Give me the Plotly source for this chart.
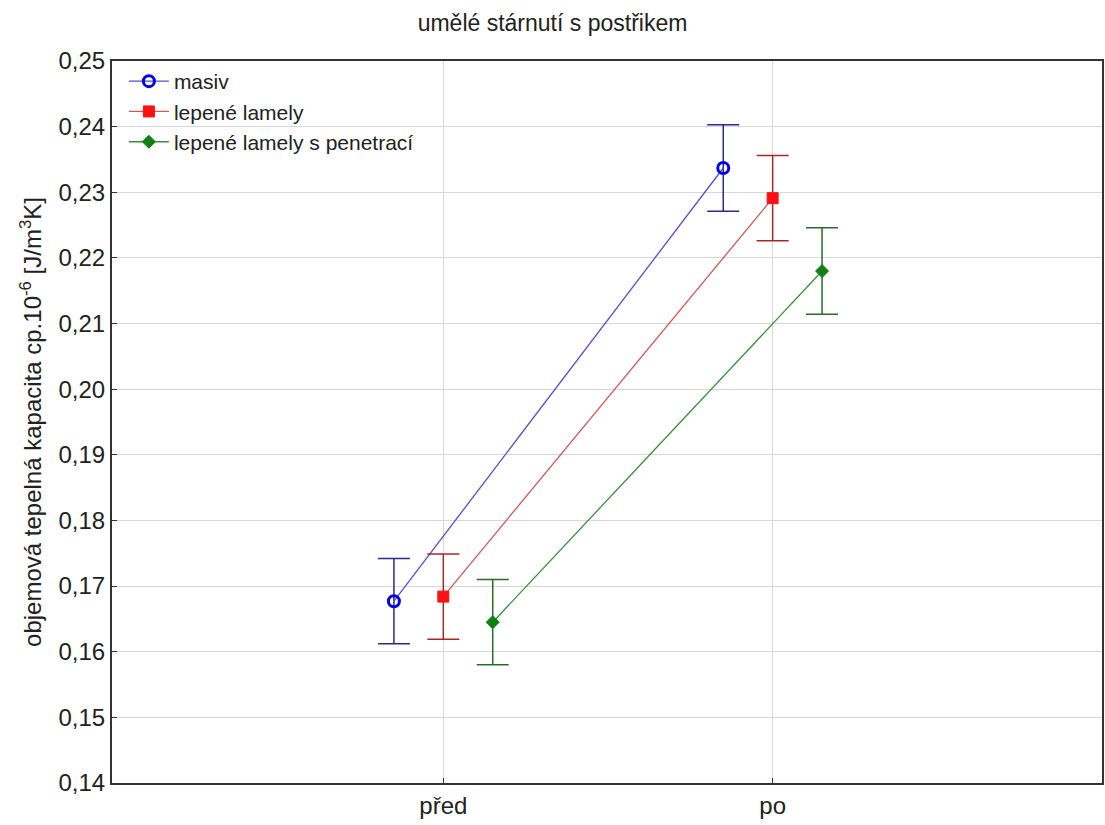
import plotly.graph_objects as go

categories = ["před", "po"]
series_names = ["masiv", "lepené lamely", "lepené lamely s penetrací"]
means_masiv = [0.1677, 0.2337]
means_lepene = [0.1684, 0.2291]
means_penetrace = [0.1645, 0.2180]
err_masiv = [0.0065, 0.0066]
err_lepene = [0.0065, 0.0065]
err_penetrace = [0.0065, 0.0066]
y_ticks = [0.14, 0.15, 0.16, 0.17, 0.18, 0.19, 0.20, 0.21, 0.22, 0.23, 0.24, 0.25]

offsets = [-0.15, 0.0, 0.15]
means = [means_masiv, means_lepene, means_penetrace]
errs = [err_masiv, err_lepene, err_penetrace]
marker_cfg = [
    dict(symbol="circle-open", size=11, color="#0000ee", line=dict(width=3, color="#0000ee")),
    dict(symbol="square", size=11, color="#ff1010", line=dict(width=1, color="#ff1010")),
    dict(symbol="diamond", size=10, color="#108010", line=dict(width=1, color="#108010")),
]
line_colors = ["#5050c8", "#d05858", "#3c8c3c"]
err_colors = ["#2a2a90", "#a82828", "#2a6a2a"]

fig = go.Figure()
for i in range(3):
    xs = [j + offsets[i] for j in range(len(categories))]
    fig.add_trace(go.Scatter(
        x=xs, y=means[i], name=series_names[i], mode="lines+markers",
        line=dict(color=line_colors[i], width=1.3),
        marker=marker_cfg[i],
        error_y=dict(type="data", array=errs[i], visible=True,
                     color=err_colors[i], thickness=1.5, width=16),
    ))

fig.update_layout(
    width=1105, height=825,
    paper_bgcolor="white", plot_bgcolor="white",
    margin=dict(l=112, r=1, t=61, b=42),
    separators=", ",
    font=dict(family="Liberation Sans, Arial, sans-serif", size=24, color="#222222"),
    title=dict(text="umělé stárnutí s postřikem", x=0.5, xanchor="center",
               y=0.972, yanchor="middle", font=dict(size=23, color="#222222")),
    legend=dict(x=0.012, y=1.0, xanchor="left", yanchor="top",
                bgcolor="rgba(255,255,255,0)", font=dict(size=21, color="#222222"),
                tracegroupgap=0, itemwidth=40),
    showlegend=True,
)
fig.update_xaxes(
    range=[-1.006, 2.0], tickmode="array", tickvals=[0, 1], ticktext=categories,
    showgrid=True, gridcolor="#d8d8d8", gridwidth=1, zeroline=False,
    showline=True, linecolor="#333333", linewidth=2, mirror=True,
    ticks="inside", ticklen=5, tickcolor="#333333",
    tickfont=dict(size=24),
)
fig.update_yaxes(
    range=[0.14, 0.25], tickmode="array", tickvals=y_ticks, tickformat=".2f",
    showgrid=True, gridcolor="#d8d8d8", gridwidth=1, zeroline=False,
    showline=True, linecolor="#333333", linewidth=2, mirror=True,
    ticks="inside", ticklen=5, tickcolor="#333333",
    tickfont=dict(size=24),
    title=dict(text="objemová tepelná kapacita cp.10<sup>-6</sup> [J/m<sup>3</sup>K]",
               font=dict(size=24), standoff=10),
)
fig.write_html("out.html")
